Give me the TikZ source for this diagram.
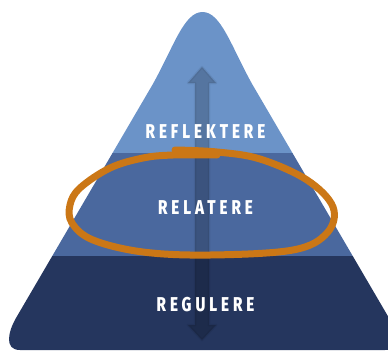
\documentclass[tikz,border=0pt]{standalone}
\usepackage{fontspec}
\newfontfamily\labfont[LetterSpace=26]{Fira Sans ExtraBold}
\begin{document}
\begin{tikzpicture}[x=1pt,y=-1pt,
  tierlabel/.style={text=white,font=\labfont\fontsize{20}{20}\selectfont,inner sep=0pt},
  arrowshape/.style={fill=black,fill opacity=0.2,draw=black,draw opacity=0.06,line width=2.5pt,line join=round}]
\useasboundingbox (0,0) rectangle (388,351);
\definecolor{tiertop}{HTML}{6B93C8}
\definecolor{tiermid}{HTML}{4A689E}
\definecolor{tierbot}{HTML}{25365E}
\definecolor{loopcol}{HTML}{CB7716}
\begin{scope}
\clip (0,0) rectangle (388,351);
\clip (20,350) .. controls (4,350) and (8,332) .. (16,318)
  -- (152.9,84) .. controls (174,46) and (184,12) .. (202.5,12)
  .. controls (221,12) and (231,46) .. (252.1,84)
  -- (389,318) .. controls (397,332) and (401,350) .. (385,350) -- cycle;
\fill[tiertop] (0,0) rectangle (388,153);
\fill[tiermid] (0,153) rectangle (388,256);
\fill[tierbot] (0,256) rectangle (388,351);
\fill[arrowshape] (202,67) -- (216,83) -- (209,83) -- (209,325) -- (216,325) -- (202,340)
  -- (188,325) -- (195,325) -- (195,83) -- (188,83) -- cycle;
\end{scope}
\node[tierlabel] (t1) at (205.5,131.5) {\scalebox{0.76}[1]{REFLEKTERE}};
\node[tierlabel] (t2) at (205.5,208) {\scalebox{0.76}[1]{RELATERE}};
\node[tierlabel] (t3) at (205.5,304.5) {\scalebox{0.76}[1]{REGULERE}};
\draw[loopcol,line width=7pt,line cap=round,line join=round] plot[smooth,tension=0.6] coordinates {
 (175,150) (217,152) (260,159) (307,180) (333,207) (327,233) (293,250) (210,255)
 (143,252) (93,240) (72,223) (70,205) (80,188) (110,168) (143,158) (173,155) (217,155)};
\end{tikzpicture}
\end{document}
